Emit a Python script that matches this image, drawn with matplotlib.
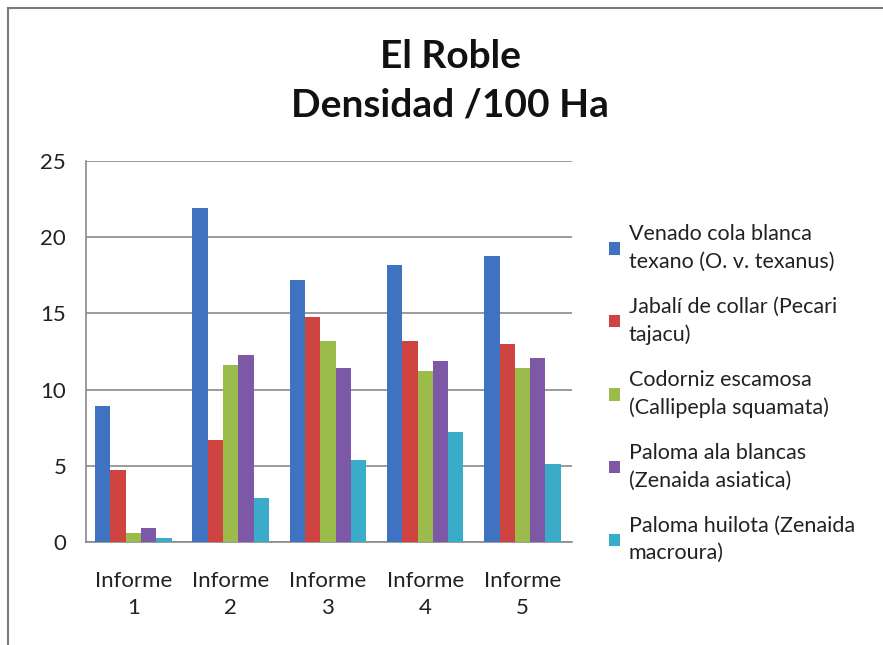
import numpy as np
import matplotlib.pyplot as plt
from matplotlib.lines import Line2D

plt.rcParams['font.family'] = ['Lato', 'DejaVu Sans']

# Data
informes = ["Informe\n1", "Informe\n2", "Informe\n3", "Informe\n4", "Informe\n5"]
venado = [8.9, 21.9, 17.2, 18.2, 18.8]
jabali = [4.7, 6.7, 14.8, 13.2, 13.0]
codorniz = [0.6, 11.6, 13.2, 11.2, 11.4]
paloma_ala = [0.9, 12.3, 11.4, 11.9, 12.1]
huilota = [0.25, 2.9, 5.4, 7.2, 5.1]

series = [venado, jabali, codorniz, paloma_ala, huilota]
labels = [
    "Venado cola blanca\ntexano (O. v. texanus)",
    "Jabalí de collar (Pecari\ntajacu)",
    "Codorniz escamosa\n(Callipepla squamata)",
    "Paloma ala blancas\n(Zenaida asiatica)",
    "Paloma huilota (Zenaida\nmacroura)",
]
colors = ["#3f72c0", "#cf4440", "#9bbb4a", "#7d58a6", "#3aabc8"]

fig = plt.figure(figsize=(8.83, 6.45), dpi=100)
ax = fig.add_axes([0.097, 0.160, 0.551, 0.590])

x = np.arange(len(informes))
w = 0.157
for i, (vals, lab, c) in enumerate(zip(series, labels, colors)):
    ax.bar(x + (i - 2) * w, vals, width=w, color=c, label=lab, zorder=3)

ax.set_xlim(-0.49, 4.51)
ax.set_ylim(0, 25)
ax.set_yticks([0, 5, 10, 15, 20, 25])
ax.yaxis.grid(True, color="#8a8a8a", linewidth=1.2, zorder=0)
ax.set_xticks(x)
ax.set_xticklabels(informes, fontsize=16, color="#222222", linespacing=1.45)
ax.tick_params(axis="y", labelsize=16, colors="#222222", length=0, pad=14)
ax.tick_params(axis="x", length=0, pad=21)
for s in ["top", "right"]:
    ax.spines[s].set_visible(False)
ax.spines["left"].set_color("#8a8a8a")
ax.spines["bottom"].set_color("#8a8a8a")
ax.spines["left"].set_linewidth(1.2)
ax.spines["bottom"].set_linewidth(1.2)

fig.text(0.51, 0.875, "El Roble\nDensidad /100 Ha", ha="center", va="center",
         fontsize=28, fontweight="bold", linespacing=1.45, color="#111111")

leg = fig.legend(loc="upper left", bbox_to_anchor=(0.668, 0.682), frameon=False,
                 fontsize=15.5, handlelength=0.5, handleheight=0.5,
                 handletextpad=0.4, labelspacing=1.17)
for t in leg.get_texts():
    t.set_color("#222222")
    t.set_linespacing(1.45)

# outer frame lines (left and top)
fig.add_artist(Line2D([0.009, 0.009], [0.0, 0.988], color="#7a7a7a", linewidth=1.5))
fig.add_artist(Line2D([0.009, 1.0], [0.988, 0.988], color="#7a7a7a", linewidth=1.5))

fig.savefig("out.png", dpi=100, facecolor="white")
